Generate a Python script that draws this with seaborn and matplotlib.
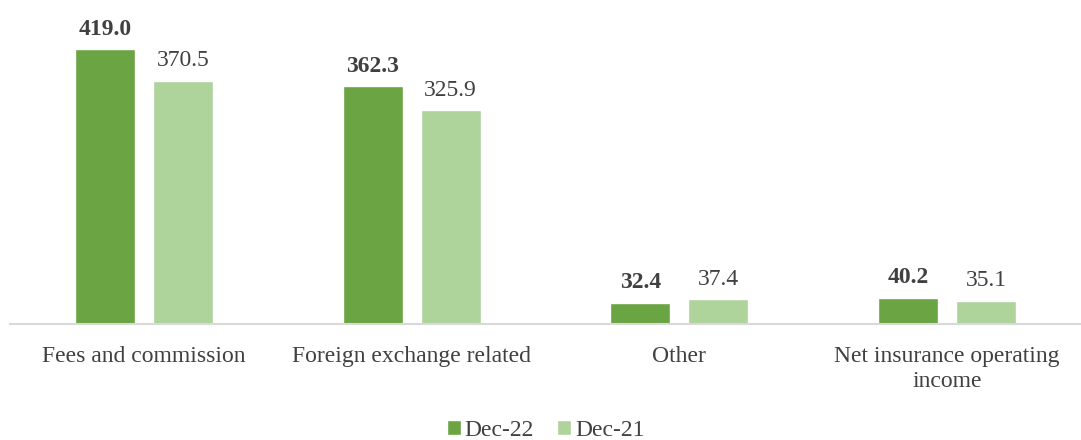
import matplotlib
matplotlib.use("Agg")
import matplotlib.pyplot as plt
import seaborn as sns
import pandas as pd

categories = ["Fees and commission", "Foreign exchange related", "Other", "Net insurance operating\nincome"]
dec22 = [419.0, 362.3, 32.4, 40.2]
dec21 = [370.5, 325.9, 37.4, 35.1]
series = ["Dec-22", "Dec-21"]
colors = ["#6AA443", "#AED39B"]

df = pd.DataFrame({
    "category": categories * 2,
    "value": dec22 + dec21,
    "series": [series[0]] * 4 + [series[1]] * 4,
})

sns.set_theme(style="white")
plt.rcParams["font.family"] = ["Liberation Serif", "DejaVu Serif"]

fig = plt.figure(figsize=(10.81, 4.40), dpi=100)
ax = fig.add_axes([10 / 1081, 1 - 324 / 440, 1071 / 1081, (324 - 29) / 440])

sns.barplot(data=df, x="category", y="value", hue="series", palette=colors,
            width=0.583, gap=0.23, ax=ax, saturation=1, legend=True)

ax.set_ylim(0, 450)
ax.set_xlim(-0.5, 3.5)
ax.set_yticks([])
ax.set_xlabel("")
ax.set_ylabel("")
for s in ["top", "right", "left"]:
    ax.spines[s].set_visible(False)
ax.spines["bottom"].set_color("#D9D9D9")
ax.spines["bottom"].set_linewidth(1.5)
ax.tick_params(axis="x", length=0, pad=16, labelsize=17, colors="#404040")
for t in ax.get_xticklabels():
    t.set_linespacing(1.25)

for i, cont in enumerate(ax.containers):
    ax.bar_label(cont, fmt="%.1f", padding=7, fontsize=17, color="#404040",
                 fontweight="bold" if i == 0 else "normal")

leg = ax.legend(loc="center", bbox_to_anchor=(0.5, (324 - 430) / 295), ncol=2, frameon=False,
                fontsize=17, handlelength=0.6, handleheight=0.6, handletextpad=0.15,
                columnspacing=1.0, labelcolor="#404040")

fig.savefig("out.png", dpi=100)
